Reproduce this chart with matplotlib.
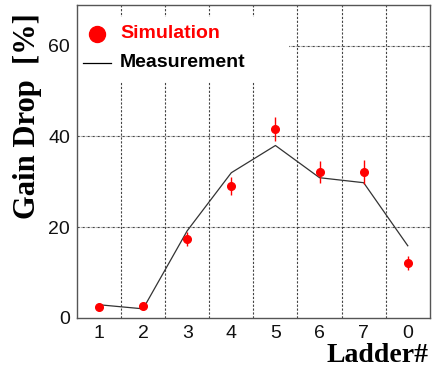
import numpy as np
import matplotlib
matplotlib.use("Agg")
from matplotlib import pyplot as plt
from matplotlib.patches import Rectangle

ladders = ["1", "2", "3", "4", "5", "6", "7", "0"]
sim_drop = [2.4, 2.6, 17.4, 29.1, 41.7, 32.2, 32.2, 12.1]
sim_err = [0.6, 0.6, 1.6, 2.0, 2.6, 2.4, 2.6, 1.5]
meas_drop = [2.9, 2.0, 19.2, 32.0, 38.0, 30.9, 29.8, 15.9]

plt.rcParams['font.family'] = ['Liberation Sans', 'DejaVu Sans']

fig = plt.figure(figsize=(4.32, 3.74), dpi=100)
ax = fig.add_axes([0.178, 0.150, 0.817, 0.837])

x = np.arange(1, len(ladders) + 1)
ax.plot(x, meas_drop, color="#333333", lw=0.9, zorder=3)
ax.errorbar(x, sim_drop, yerr=sim_err, fmt="o", color="red", ms=5.5,
            elinewidth=1.0, capsize=0, zorder=4)

ax.set_xlim(0.5, 8.5)
ax.set_ylim(0, 69)
ax.set_xticks(x)
ax.set_xticklabels(ladders)
ax.set_yticks([0, 20, 40, 60])
ax.tick_params(length=0, labelsize=14, pad=5, colors="#111111")

# grid lines between ladders and at the y ticks
for b in np.arange(1.5, 8.5, 1.0):
    ax.axvline(b, color="#444444", lw=0.8, ls=(0, (2, 1.5)), zorder=1)
for h in [20, 40, 60]:
    ax.axhline(h, color="#444444", lw=0.8, ls=(0, (2, 1, 0.5, 1)), zorder=1)

for s in ax.spines.values():
    s.set_color("#555555")
    s.set_linewidth(1.0)

ax.set_ylabel("Gain Drop  [%]", family="Liberation Serif", fontweight="bold",
              fontsize=22)
ax.yaxis.set_label_coords(-0.10, 0.645)
fig.text(0.993, 0.015, "Ladder#", family="Liberation Serif",
         fontweight="bold", fontsize=20, ha="right", va="bottom")

# legend box hides the grid behind it
ax.add_patch(Rectangle((0.0, 0.754), 0.60, 0.208, transform=ax.transAxes,
                       facecolor="white", edgecolor="none", zorder=2))
ax.plot([0.057], [0.907], "o", color="red", ms=11.5, transform=ax.transAxes,
        zorder=5)
ax.plot([0.017, 0.096], [0.815, 0.815], color="black", lw=0.9,
        transform=ax.transAxes, zorder=5)
ax.text(0.122, 0.907, "Simulation", color="red", fontweight="bold",
        fontsize=14, va="center", transform=ax.transAxes, zorder=5)
ax.text(0.122, 0.815, "Measurement", color="black", fontweight="bold",
        fontsize=14, va="center", transform=ax.transAxes, zorder=5)

fig.savefig("out.png", dpi=100)
